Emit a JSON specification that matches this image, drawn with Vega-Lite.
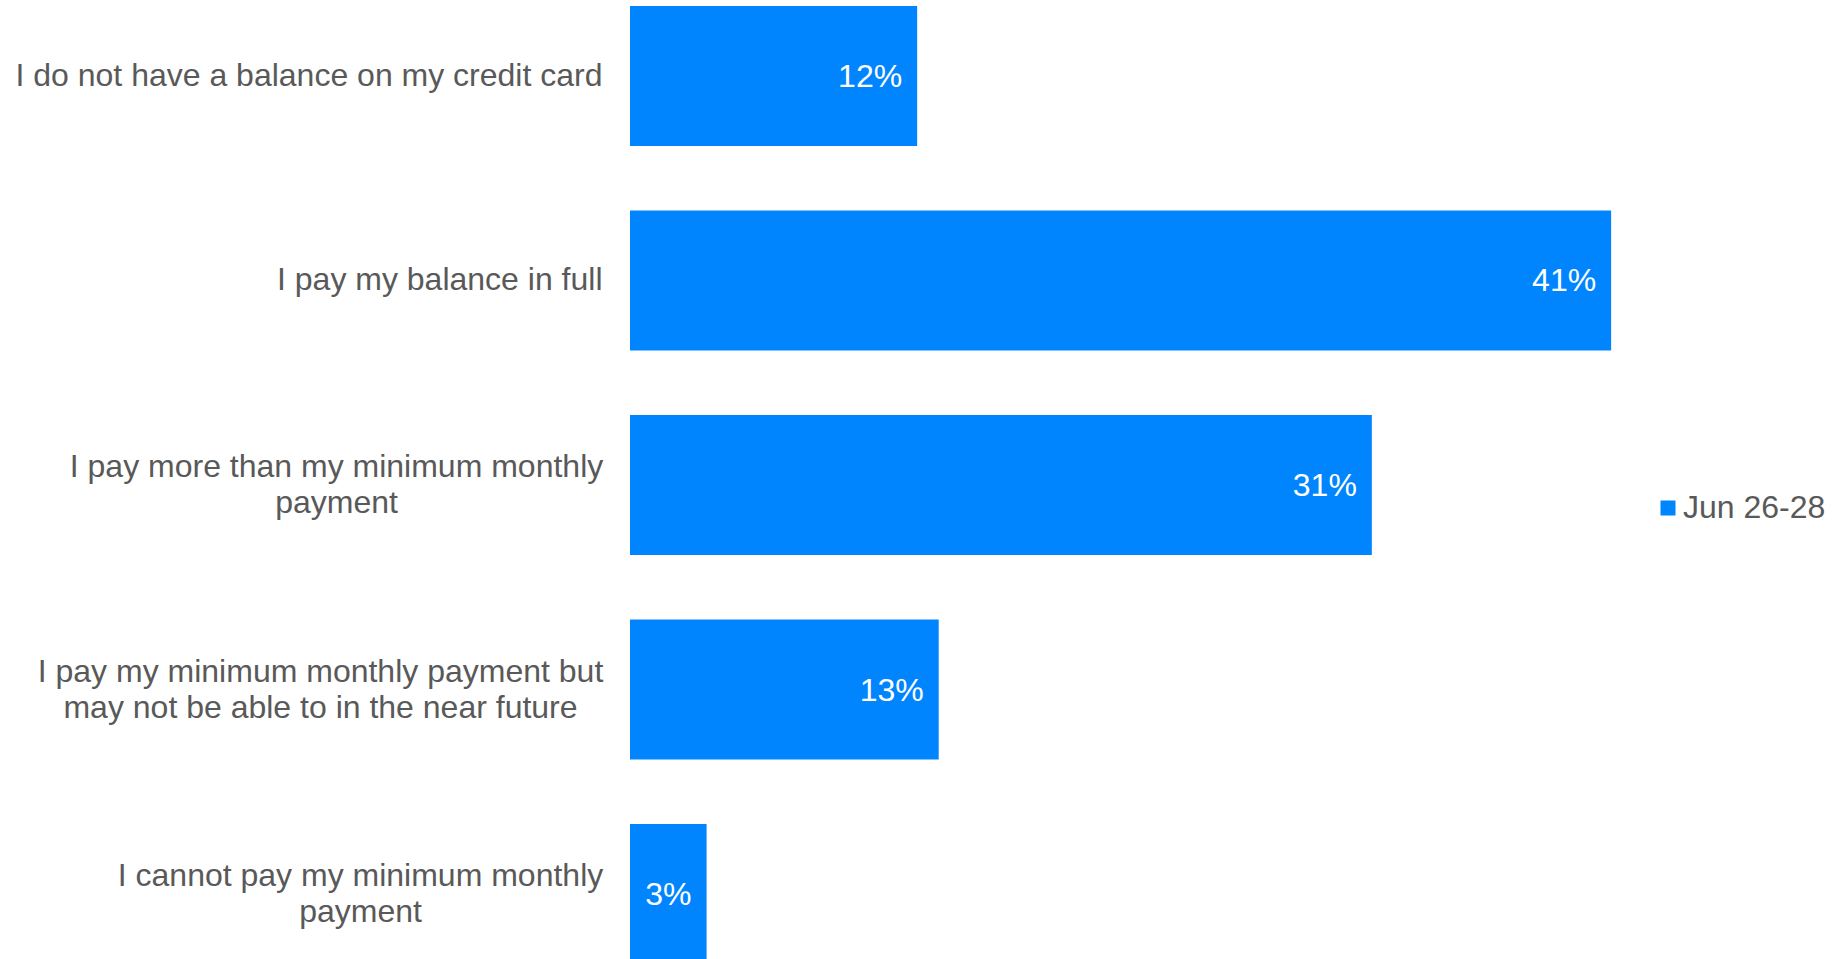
{
  "$schema": "https://vega.github.io/schema/vega-lite/v6.json",
  "autosize": "none",
  "padding": {"left": 630, "top": 6, "right": 175, "bottom": 0},
  "width": 1029,
  "height": 953,
  "background": "white",
  "config": {"view": {"stroke": null}, "font": "Liberation Sans"},
  "data": {
    "values": [
      {"label": "I do not have a balance on my credit card", "value": 0.12, "period": "Jun 26-28"},
      {"label": "I pay my balance in full", "value": 0.41, "period": "Jun 26-28"},
      {"label": "I pay more than my minimum monthly\npayment", "value": 0.31, "period": "Jun 26-28"},
      {"label": "I pay my minimum monthly payment but\nmay not be able to in the near future", "value": 0.129, "period": "Jun 26-28"},
      {"label": "I cannot pay my minimum monthly\npayment", "value": 0.032, "period": "Jun 26-28"}
    ]
  },
  "encoding": {
    "y": {
      "field": "label",
      "type": "nominal",
      "sort": null,
      "scale": {"paddingInner": 0.316, "paddingOuter": 0, "range": [0, 958]},
      "axis": {
        "title": null,
        "domain": false,
        "ticks": false,
        "tickSize": 0,
        "labelPadding": {
          "condition": [
            {"test": "indexof(datum.value, 'more than') >= 0", "value": 294},
            {"test": "indexof(datum.value, 'but') >= 0", "value": 310},
            {"test": "indexof(datum.value, 'cannot') >= 0", "value": 270}
          ],
          "value": 28
        },
        "labelFontSize": 32,
        "labelColor": "#595959",
        "labelFont": "Liberation Sans",
        "labelAlign": {
          "condition": {"test": "indexof(datum.value, '\\n') >= 0", "value": "center"},
          "value": "right"
        },
        "labelOffset": {
          "condition": {"test": "indexof(datum.value, '\\n') >= 0", "value": -18},
          "value": 0
        },
        "labelBaseline": "middle",
        "labelLineHeight": 36,
        "labelLimit": 800,
        "labelExpr": "split(datum.label, '\\n')"
      }
    },
    "x": {
      "field": "value",
      "type": "quantitative",
      "scale": {"domain": [0, 0.43], "nice": false},
      "axis": null
    }
  },
  "layer": [
    {
      "mark": {"type": "bar"},
      "encoding": {
        "color": {
          "field": "period",
          "type": "nominal",
          "scale": {"range": ["#0085FF"]},
          "legend": {
            "title": null,
            "orient": "none",
            "legendX": 1022,
            "legendY": 486,
            "padding": 0,
            "symbolType": "square",
            "symbolSize": 225,
            "symbolStrokeWidth": 0,
            "labelFontSize": 32,
            "labelColor": "#595959",
            "labelFont": "Liberation Sans",
            "labelOffset": -1
          }
        }
      }
    },
    {
      "mark": {"type": "text", "align": "right", "baseline": "middle", "dx": -15, "dy": 1, "fontSize": 32, "color": "white", "font": "Liberation Sans"},
      "encoding": {
        "text": {"field": "value", "type": "quantitative", "format": ".0%"}
      }
    }
  ]
}
